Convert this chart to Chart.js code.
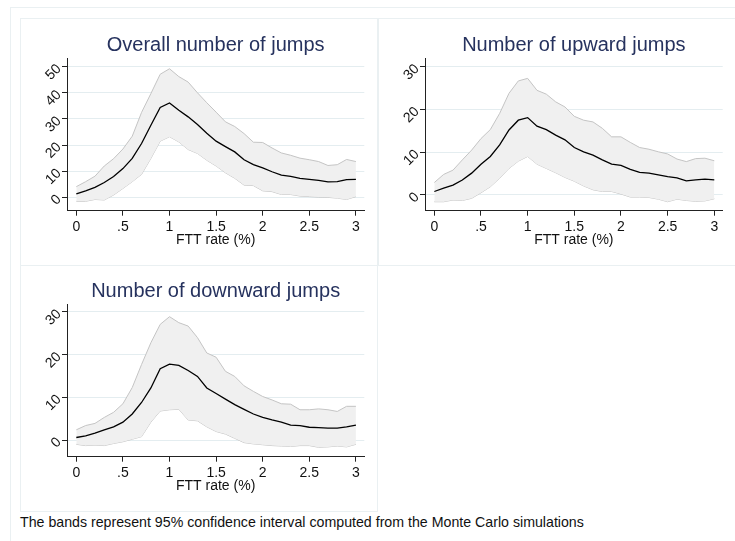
<!DOCTYPE html>
<html>
<head>
<meta charset="utf-8">
<script src="https://cdn.jsdelivr.net/npm/chart.js@4.4.1/dist/chart.umd.min.js"></script>
<style>
  body { margin: 0; width: 735px; height: 541px; overflow: hidden; position: relative; background: #fff;
         font-family: "Liberation Sans", Arial, Helvetica, sans-serif; }
  .frame { position: absolute; border: 1px solid #eaf0f2; box-sizing: border-box; }
  canvas { position: absolute; }
  #note { position: absolute; left: 20px; top: 514px; font-size: 14.2px; color: #111; white-space: nowrap; }
</style>
</head>
<body>
<div class="frame" style="left:10px;top:7px;width:760px;height:560px"></div>
<div class="frame" style="left:20px;top:18px;width:358px;height:248px"></div>
<div class="frame" style="left:378px;top:18px;width:380px;height:248px"></div>
<div class="frame" style="left:20px;top:265px;width:358px;height:247px"></div>

<canvas id="overall" width="358" height="246" style="left:20px;top:19px"></canvas>
<canvas id="upward" width="357" height="246" style="left:378px;top:19px"></canvas>
<canvas id="downward" width="358" height="246" style="left:20px;top:265px"></canvas>
<div id="note">The bands represent 95% confidence interval computed from the Monte Carlo simulations</div>

<script>
// FTT rate grid (%) and axis ticks
const fttRate = [0, 0.1, 0.2, 0.3, 0.4, 0.5, 0.6, 0.7, 0.8, 0.9, 1.0,
                 1.1, 1.2, 1.3, 1.4, 1.5, 1.6, 1.7, 1.8, 1.9, 2.0,
                 2.1, 2.2, 2.3, 2.4, 2.5, 2.6, 2.7, 2.8, 2.9, 3.0];
const rateTicks = [0, 0.5, 1, 1.5, 2, 2.5, 3];

// Overall number of jumps: mean and 95% band
const overallMean  = [1.3, 2.5, 3.8, 5.7, 8.0, 11.0, 14.9, 20.6, 27.6, 34.4, 36.1,
                      33.3, 30.8, 27.9, 24.5, 21.5, 19.4, 17.4, 14.4, 12.5, 11.3,
                      9.8, 8.5, 8.0, 7.3, 6.9, 6.5, 5.9, 6.0, 6.8, 6.9];
const overallUpper = [4.1, 6.0, 8.1, 12.0, 14.8, 18.5, 23.4, 32.5, 39.7, 47.1, 49.2,
                      46.2, 44.1, 40.0, 36.2, 32.6, 28.9, 27.1, 24.4, 21.1, 21.0,
                      18.9, 17.0, 16.1, 15.0, 14.4, 13.7, 12.2, 12.5, 14.5, 13.7];
const overallLower = [-1.5, -1.5, -0.8, -1.0, 0.9, 3.4, 6.0, 8.8, 14.9, 21.5, 23.2,
                      21.2, 18.3, 16.8, 14.2, 12.0, 9.4, 7.3, 4.7, 4.5, 2.5,
                      2.2, 1.1, 1.1, 0.5, 0.3, 0.1, 0.0, -0.3, -0.8, 0.3];

// Upward jumps
const upMean  = [0.8, 1.6, 2.3, 3.5, 5.1, 7.2, 9.0, 11.7, 15.2, 17.5, 18.1,
                 16.1, 15.3, 14.0, 12.9, 11.1, 10.1, 9.3, 8.2, 7.2, 6.9,
                 6.0, 5.3, 5.1, 4.7, 4.3, 4.0, 3.3, 3.5, 3.7, 3.5];
const upUpper = [2.9, 4.8, 5.8, 8.2, 10.5, 13.2, 15.3, 19.1, 23.8, 26.7, 27.3,
                 24.5, 23.6, 21.8, 20.6, 18.4, 17.5, 17.1, 15.6, 13.6, 13.6,
                 12.3, 11.1, 10.7, 10.1, 9.6, 8.4, 7.8, 8.5, 8.6, 8.0];
const upLower = [-1.6, -1.6, -1.2, -1.3, -0.8, 0.5, 1.9, 3.9, 6.2, 7.9, 9.0,
                 7.2, 6.2, 5.2, 4.1, 3.2, 2.1, 1.2, 0.8, 0.8, 0.2,
                 -0.5, -0.5, -0.6, -1.0, -1.6, -1.0, -1.3, -1.5, -1.4, -0.9];

// Downward jumps
const downMean  = [0.6, 1.0, 1.6, 2.4, 3.1, 4.2, 6.1, 8.8, 12.2, 16.7, 17.8,
                   17.5, 16.3, 14.9, 12.2, 10.9, 9.6, 8.3, 7.2, 6.1, 5.3,
                   4.7, 4.2, 3.5, 3.4, 3.0, 2.9, 2.8, 2.8, 3.1, 3.5];
const downUpper = [2.4, 3.4, 3.9, 5.3, 6.5, 8.5, 12.3, 17.7, 22.8, 27.1, 28.9,
                   27.5, 26.7, 24.0, 20.4, 19.4, 16.1, 14.9, 12.7, 11.4, 10.2,
                   9.4, 8.5, 8.4, 7.1, 7.1, 7.3, 7.1, 6.7, 7.9, 7.9];
const downLower = [-1.0, -1.3, -1.2, -1.3, -0.8, -0.4, 0.2, 0.8, 4.2, 6.8, 7.1,
                   7.2, 4.7, 4.5, 3.1, 2.0, 1.4, 0.4, -0.6, -0.9, -1.1,
                   -1.3, -1.4, -1.5, -1.3, -1.3, -1.7, -1.6, -1.4, -1.6, -1.0];

const FONT = '"Liberation Sans", Arial, Helvetica, sans-serif';
const tickFont = { family: FONT, size: 14 };
const axisColor = '#222';

const toPoints = vals => fttRate.map((x, i) => ({ x: x, y: vals[i] }));

function makePanel(id, title, mean, upper, lower, yTicks, yMin, yMax, padRight) {
  const ctx = document.getElementById(id).getContext('2d');
  return new Chart(ctx, {
    type: 'line',
    data: {
      // index 0 is painted last, so the mean sits on top of the band
      datasets: [
        { data: toPoints(mean), borderColor: '#000', borderWidth: 1.3,
          fill: false, pointRadius: 0 },
        { data: toPoints(upper), borderColor: '#c4c4c4', borderWidth: 1,
          backgroundColor: '#f0f0f0', fill: '+1', pointRadius: 0 },
        { data: toPoints(lower), borderColor: '#c4c4c4', borderWidth: 1,
          fill: false, pointRadius: 0 }
      ]
    },
    options: {
      responsive: false,
      animation: false,
      layout: { padding: { left: 0, right: padRight, top: 0, bottom: 0 } },
      plugins: {
        legend: { display: false },
        tooltip: { enabled: false },
        title: {
          display: true,
          text: title,
          fullSize: false,
          color: '#26325e',
          font: { family: FONT, size: 20, weight: 'normal' },
          padding: { top: 14.3, bottom: 1 }
        }
      },
      elements: { line: { tension: 0 } },
      scales: {
        x: {
          type: 'linear',
          min: -0.1,
          max: 3.09,
          afterBuildTicks: s => { s.ticks = rateTicks.map(v => ({ value: v })); },
          afterFit: s => { s.height = 54.3; },
          ticks: {
            padding: 3, color: '#111', font: tickFont, maxRotation: 0, autoSkip: false,
            callback: v => (v === 0 ? '0' : String(v).replace(/^0\./, '.'))
          },
          grid: { drawOnChartArea: false, tickLength: 5, color: axisColor },
          border: { color: axisColor },
          title: {
            display: true, text: 'FTT rate (%)', color: '#111', font: tickFont,
            padding: { top: 0, bottom: 16.6 }
          }
        },
        y: {
          type: 'linear',
          min: yMin,
          max: yMax,
          afterBuildTicks: s => { s.ticks = yTicks.map(v => ({ value: v })); },
          afterFit: s => { s.width = 47; },
          ticks: { minRotation: 45, maxRotation: 45, padding: 3, color: '#111', font: tickFont },
          grid: { color: '#e4edf0', tickColor: axisColor, tickLength: 5 },
          border: { color: axisColor }
        }
      }
    }
  });
}

makePanel('overall', 'Overall number of jumps', overallMean, overallUpper, overallLower,
          [0, 10, 20, 30, 40, 50], -5.1, 53.2, 13.7);
makePanel('upward', 'Number of upward jumps', upMean, upUpper, upLower,
          [0, 10, 20, 30], -3.7, 32, 12.3);
makePanel('downward', 'Number of downward jumps', downMean, downUpper, downLower,
          [0, 10, 20, 30], -3.9, 31.8, 13.7);
</script>
</body>
</html>
